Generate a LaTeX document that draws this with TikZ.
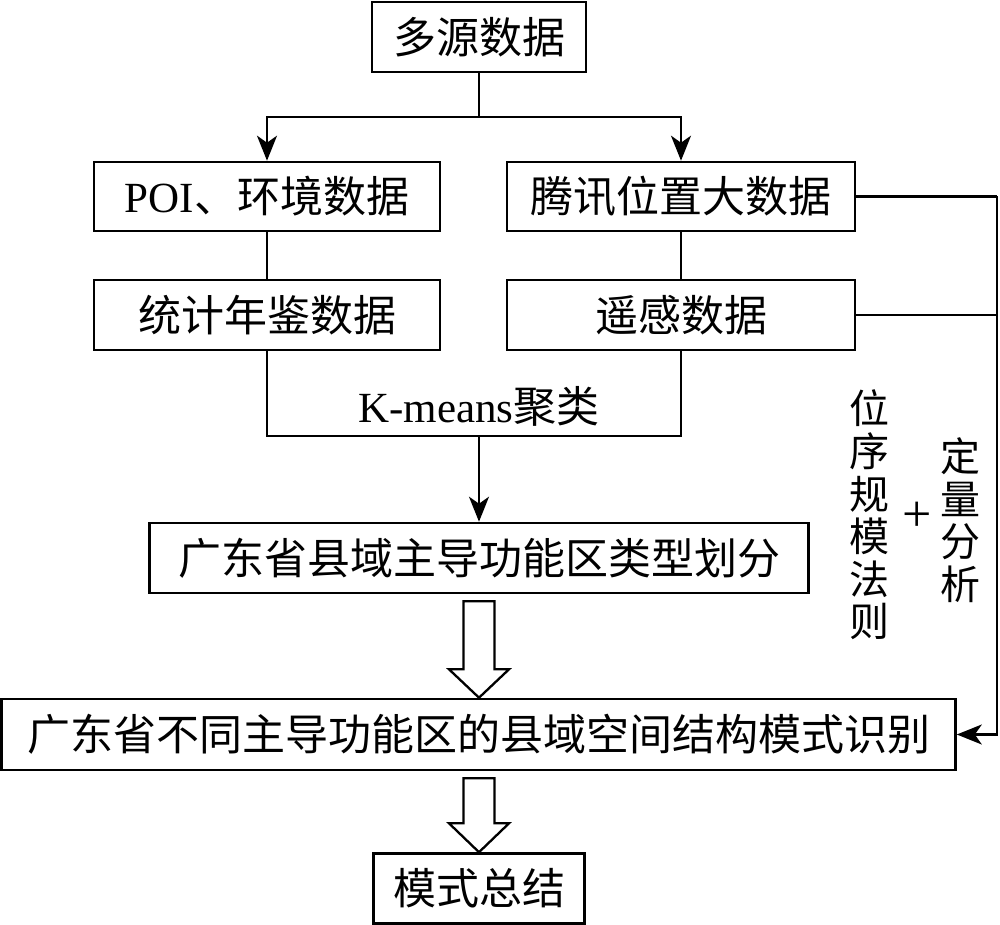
\documentclass[tikz,border=0pt]{standalone}
\usepackage{fontspec}
\setmainfont{Liberation Serif}
\newfontfamily\cjk{Noto Sans CJK SC}
\usetikzlibrary{arrows.meta,calc}
\begin{document}
\begin{tikzpicture}[x=0.5pt,y=-0.5pt,
  box/.style={draw,line width=1.3pt,inner sep=0pt,font=\fontsize{21.5}{26}\selectfont},
  conn/.style={line width=1.15pt},
  arr/.style={conn,-{Stealth[length=12.5pt,width=10pt,inset=3.5pt]}},
  hollow/.style={draw,line width=1.15pt,fill=white,line join=miter},
  vtext/.style={inner sep=0pt,align=center,font=\cjk\fontsize{20}{21.3}\selectfont}]
\useasboundingbox (0,0) rectangle (1000,925);
% boxes
\node[box,minimum width=107pt,minimum height=35pt] (top) at (479,37) {\cjk 多源数据};
\node[box,minimum width=173pt,minimum height=34.5pt] (poi) at (267,196.5) {POI\cjk{、环境数据}};
\node[box,minimum width=174pt,minimum height=34.5pt] (tx) at (681,196.5) {\cjk 腾讯位置大数据};
\node[box,minimum width=173pt,minimum height=35pt] (tj) at (267,315) {\cjk 统计年鉴数据};
\node[box,minimum width=174pt,minimum height=35pt] (yg) at (681,315) {\cjk 遥感数据};
\node[box,minimum width=329.5pt,minimum height=35pt] (type) at (479,558) {\cjk 广东省县域主导功能区类型划分};
\node[box,minimum width=477pt,minimum height=35.5pt] (big) at (478.5,734.5) {\cjk 广东省不同主导功能区的县域空间结构模式识别};
\node[box,minimum width=105.5pt,minimum height=35pt] (sum) at (479,888.5) {\cjk 模式总结};
% top branching
\draw[conn] (top.south) -- ($(top.south)+(0,44)$) coordinate (br);
\draw[arr] (br) -| (poi.north);
\draw[arr] (br) -| (tx.north);
\draw[conn] (poi.south) -- (tj.north);
\draw[conn] (tx.south) -- (yg.north);
% k-means bracket
\coordinate (km) at (479,436);
\draw[conn] (tj.south) |- (km) -| (yg.south);
\node[inner sep=0pt,font=\fontsize{21.5}{26}\selectfont] (kl) at (479,406) {K-means\cjk{聚类}};
\draw[arr] (km) -- (type.north);
% hollow arrows
\draw[hollow] ($(type.south)+(-15.5,7)$) -- ($(type.south)+(15.5,7)$) -- ($(type.south)+(15.5,75)$) -- ($(type.south)+(30,75)$) -- ($(big.north)+(0.5,0)$) -- ($(type.south)+(-30,75)$) -- ($(type.south)+(-15.5,75)$) -- cycle;
\draw[hollow] ($(big.south)+(-15,7)$) -- ($(big.south)+(16,7)$) -- ($(big.south)+(16,52)$) -- ($(big.south)+(30.5,52)$) -- (sum.north) -- ($(big.south)+(-29.5,52)$) -- ($(big.south)+(-15,52)$) -- cycle;
% right connector
\coordinate (rx) at (997,0);
\draw[conn] (tx.east) -- (tx.east -| rx);
\draw[conn] (yg.east) -- (yg.east -| rx);
\draw[arr] (tx.east -| rx) |- (big.east);
% vertical labels
\node[vtext] (v1) at (869,515) {位\\序\\规\\模\\法\\则};
\node[vtext] (v2) at (960,520) {定\\量\\分\\析};
\node[inner sep=0pt,font=\fontsize{26}{28}\selectfont] (plus) at (917,517) {+};
\end{tikzpicture}
\end{document}
